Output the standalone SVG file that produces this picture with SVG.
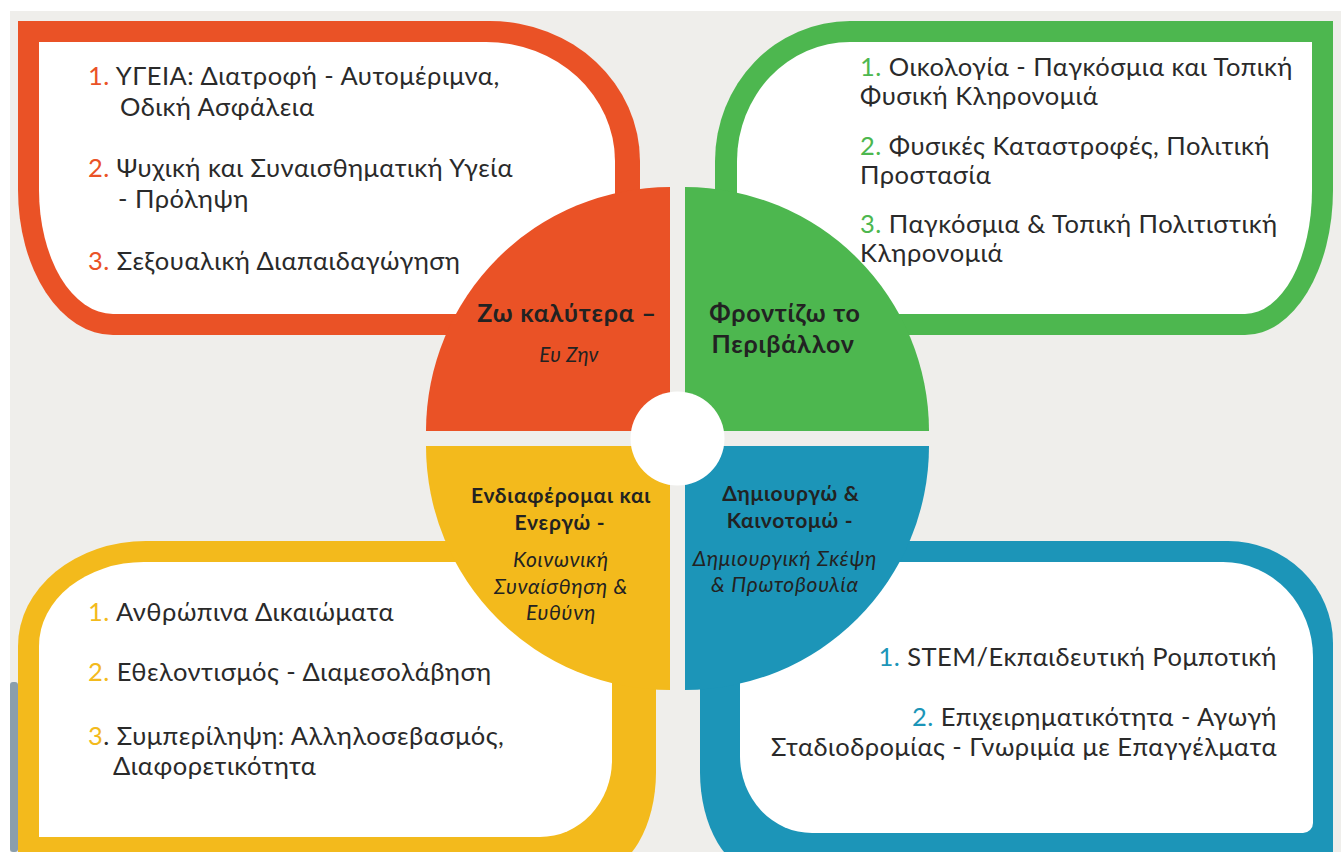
<svg xmlns="http://www.w3.org/2000/svg" width="1341" height="852" viewBox="0 0 1341 852">
<style>
.body{font-family:Lato,"Open Sans","Noto Sans",sans-serif;font-size:25.5px;letter-spacing:0.5px;fill:#2a2a2a}
.ttl{font-family:Lato,"Open Sans","Noto Sans",sans-serif;font-weight:bold;fill:#222;text-anchor:middle}
.sub{font-family:Lato,"Open Sans","Noto Sans",sans-serif;font-style:italic;fill:#222;text-anchor:middle}
.big{font-size:25px;letter-spacing:0.8px}
.sm{font-size:21px;letter-spacing:0.75px}
.r{fill:#ea5226}.g{fill:#4db74f}.y{fill:#f3ba1c}.b{fill:#1c95b8}
.w{fill:#fff}
</style>
<rect x="0" y="0" width="1341" height="852" fill="#fff"/>
<rect x="10" y="11" width="1331" height="841" fill="#efeeeb"/>
<rect x="10" y="682" width="8" height="170" rx="3" fill="#8b9eac"/>

<g id="panel-red">
<path class="r" d="M18,21 H490 A150,140 0 0 1 640,161 V335 H113 A95,145 0 0 1 18,190 Z"/>
<path class="w" d="M39,42 H486 A129,119 0 0 1 615,161 V314 H113 A74,124 0 0 1 39,190 Z"/>
<text class="body" x="88" y="85"><tspan class="r">1.</tspan> ΥΓΕΙΑ: Διατροφή - Αυτομέριμνα,<tspan x="120" dy="31">Οδική Ασφάλεια</tspan></text>
<text class="body" x="88" y="177"><tspan class="r">2.</tspan> Ψυχική και Συναισθηματική Υγεία<tspan x="118" dy="31">- Πρόληψη</tspan></text>
<text class="body" x="88" y="270"><tspan class="r">3.</tspan> Σεξουαλική Διαπαιδαγώγηση</text>
</g>

<g id="panel-green">
<path class="g" d="M715,335 V161 A135,140 0 0 1 850,21 H1333 V190 A88,145 0 0 1 1245,335 Z"/>
<path class="w" d="M737,314 V161 A113,119 0 0 1 850,42 H1312 V190 A67,124 0 0 1 1245,314 Z"/>
<text class="body" x="860" y="76"><tspan class="g">1.</tspan> Οικολογία - Παγκόσμια και Τοπική<tspan x="860" dy="29">Φυσική Κληρονομιά</tspan></text>
<text class="body" x="860" y="155"><tspan class="g">2.</tspan> Φυσικές Καταστροφές, Πολιτική<tspan x="860" dy="29">Προστασία</tspan></text>
<text class="body" x="860" y="233"><tspan class="g">3.</tspan> Παγκόσμια &amp; Τοπική Πολιτιστική<tspan x="860" dy="29">Κληρονομιά</tspan></text>
</g>

<g id="panel-yellow">
<path class="y" d="M18,872 V646 A128,105 0 0 1 146,541 H656 V772 A60,100 0 0 1 596,872 Z"/>
<path class="w" d="M39,837 V646 A105,84 0 0 1 144,562 H612 V760 A72,77 0 0 1 540,837 Z"/>
<text class="body" x="88" y="621"><tspan class="y">1.</tspan> Ανθρώπινα Δικαιώματα</text>
<text class="body" x="88" y="681"><tspan class="y">2.</tspan> Εθελοντισμός - Διαμεσολάβηση</text>
<text class="body" x="88" y="745"><tspan class="y">3</tspan>. Συμπερίληψη: Αλληλοσεβασμός,<tspan x="113" dy="30">Διαφορετικότητα</tspan></text>
</g>

<g id="panel-blue">
<path class="b" d="M700,541 H1228 A105,102 0 0 1 1333,643 V872 H760 A60,100 0 0 1 700,772 Z"/>
<path class="w" d="M740,562 H1223 A90,95 0 0 1 1313,657 V823 A10,10 0 0 1 1303,833 H812 A72,77 0 0 1 740,756 Z"/>
<text class="body" x="1277" y="666" text-anchor="end"><tspan class="b">1.</tspan> STEM/Εκπαιδευτική Ρομποτική</text>
<text class="body" x="1277" y="726" text-anchor="end"><tspan class="b">2.</tspan> Επιχειρηματικότητα - Αγωγή<tspan x="1277" dy="30">Σταδιοδρομίας - Γνωριμία με Επαγγέλματα</tspan></text>
</g>

<g id="hub">
<g id="quad-red">
<path class="r" d="M670,431 H426 A244,244 0 0 1 670,187 Z"/>
<text class="ttl big" x="567" y="322">Ζω καλύτερα –</text>
<text class="sub" x="569" y="362" font-size="20.5" letter-spacing="0.3">Ευ Ζην</text>
</g>
<g id="quad-green">
<path class="g" d="M685,431 V187 A244,244 0 0 1 929,431 Z"/>
<text class="ttl big" x="785" y="322">Φροντίζω το<tspan x="783" dy="31">Περιβάλλον</tspan></text>
</g>
<g id="quad-yellow">
<path class="y" d="M670,446 V690 A244,244 0 0 1 426,446 Z"/>
<text class="ttl sm" x="561" y="503">Ενδιαφέρομαι και<tspan x="560" dy="27">Ενεργώ -</tspan></text>
<text class="sub sm" x="561" y="567">Κοινωνική<tspan x="561" dy="27">Συναίσθηση &amp;</tspan><tspan x="561" dy="26">Ευθύνη</tspan></text>
</g>
<g id="quad-blue">
<path class="b" d="M685,446 H929 A244,244 0 0 1 685,690 Z"/>
<text class="ttl sm" x="791" y="501">Δημιουργώ &amp;<tspan x="790" dy="27">Καινοτομώ -</tspan></text>
<text class="sub sm" x="785" y="566">Δημιουργική Σκέψη<tspan x="785" dy="26">&amp; Πρωτοβουλία</tspan></text>
</g>
<circle id="center" cx="677.5" cy="438.5" r="47" fill="#fff"/>
</g>
<g id="connectors"/>
</svg>
